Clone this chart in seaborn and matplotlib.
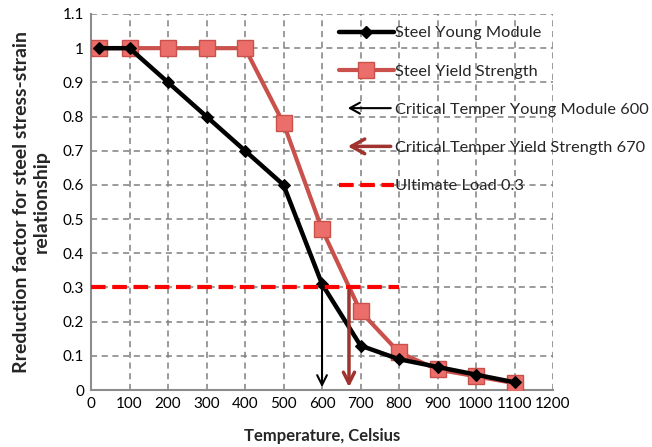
import matplotlib
matplotlib.use("Agg")
import matplotlib.pyplot as plt
import seaborn as sns
import pandas as pd
from matplotlib.lines import Line2D
from matplotlib.legend_handler import HandlerBase
from matplotlib.patches import FancyArrowPatch

temps = [20, 100, 200, 300, 400, 500, 600, 700, 800, 900, 1000, 1100]
young = [1.0, 1.0, 0.9, 0.8, 0.7, 0.6, 0.31, 0.13, 0.09, 0.0675, 0.045, 0.0225]
yield_s = [1.0, 1.0, 1.0, 1.0, 1.0, 0.78, 0.47, 0.23, 0.11, 0.06, 0.04, 0.02]
crit_young = 600
crit_yield = 670
ult_load = 0.3
ult_x = [0, 800]
xticks = list(range(0, 1300, 100))
yticks = [0, 0.1, 0.2, 0.3, 0.4, 0.5, 0.6, 0.7, 0.8, 0.9, 1, 1.1]
ytick_labels = ["0", "0.1", "0.2", "0.3", "0.4", "0.5", "0.6", "0.7", "0.8", "0.9", "1", "1.1"]

sns.set_style("white")
plt.rcParams['font.family'] = ['Lato', 'DejaVu Sans']

fig = plt.figure(figsize=(6.52, 4.47), dpi=100)
ax = fig.add_axes([0.1396, 0.1275, 0.7086, 0.8412])

red_line = "#c9504b"
red_face = "#ec6e6a"
red_edge = "#c9504b"
brown = "#a0332e"

df_y = pd.DataFrame({"T": temps, "v": young})
df_s = pd.DataFrame({"T": temps, "v": yield_s})

sns.lineplot(data=df_s, x="T", y="v", ax=ax, color=red_line, lw=3, marker="s",
             markersize=11, markerfacecolor=red_face, markeredgecolor=red_edge,
             markeredgewidth=1, sort=False, zorder=3)
sns.lineplot(data=df_y, x="T", y="v", ax=ax, color="black", lw=3.2, marker="D",
             markersize=6, markerfacecolor="black", markeredgecolor="black",
             sort=False, zorder=4)
ax.plot(ult_x, [ult_load, ult_load], color="#ff0000", lw=3, ls=(0, (3.5, 1.6)), zorder=5)

ax.annotate("", xy=(crit_young, 0.0), xytext=(crit_young, ult_load),
            arrowprops=dict(arrowstyle="->,head_length=0.7,head_width=0.35", color="black", lw=1.5),
            zorder=6)
ax.annotate("", xy=(crit_yield, 0.0), xytext=(crit_yield, ult_load),
            arrowprops=dict(arrowstyle="->,head_length=0.8,head_width=0.4", color=brown, lw=2.5),
            zorder=6)

ax.set_xlim(0, 1200)
ax.set_ylim(0, 1.1)
ax.set_xticks(xticks)
ax.set_xticklabels([str(t) for t in xticks])
ax.set_yticks(yticks)
ax.set_yticklabels(ytick_labels)
ax.tick_params(axis="both", labelsize=11, length=0, pad=5, colors="black")
ax.grid(True, color="#808080", ls=(0, (4, 3)), lw=1.1)
for s in ["top", "right"]:
    ax.spines[s].set_visible(False)
for s in ["left", "bottom"]:
    ax.spines[s].set_color("#8c8c8c")
    ax.spines[s].set_linewidth(1.5)
ax.set_axisbelow(True)

ax.set_xlabel("Temperature, Celsius", fontsize=12, fontweight="bold", labelpad=12)
ax.set_ylabel("Rreduction factor for steel stress-strain\nrelationship", fontsize=14,
              fontweight="bold", labelpad=9, linespacing=1.25)

handles = [
    Line2D([], [], color="black", lw=3.2, marker="D", markersize=6),
    Line2D([], [], color=red_line, lw=3, marker="s", markersize=11,
           markerfacecolor=red_face, markeredgecolor=red_edge),
    Line2D([], [], color="black", lw=1.5),
    Line2D([], [], color=brown, lw=2.5),
    Line2D([], [], color="#ff0000", lw=3, ls=(0, (3.5, 1.6))),
]
labels = ["Steel Young Module", "Steel Yield Strength", "Critical Temper Young Module 600",
          "Critical Temper Yield Strength 670", "Ultimate Load 0.3"]


class ArrowHandler(HandlerBase):
    def __init__(self, color, lw, scale):
        super().__init__()
        self.color = color
        self.lw = lw
        self.scale = scale

    def create_artists(self, legend, orig_handle, xdescent, ydescent, width, height, fontsize, trans):
        y = height / 2 - ydescent
        p = FancyArrowPatch((width - xdescent, y), (-xdescent + 4, y),
                            arrowstyle="->,head_length=%f,head_width=%f" % (self.scale, self.scale * 0.55),
                            color=self.color, lw=self.lw, mutation_scale=12, transform=trans)
        return [p]


leg = ax.legend(handles, labels, loc="upper left", bbox_to_anchor=(0.498, 0.975),
                bbox_transform=fig.transFigure, frameon=False, fontsize=11.8,
                handlelength=3.3, handletextpad=0.1, labelspacing=1.45,
                handler_map={handles[2]: ArrowHandler("black", 1.5, 0.6),
                             handles[3]: ArrowHandler(brown, 2.5, 0.8)})

fig.savefig("out.png", dpi=100)
